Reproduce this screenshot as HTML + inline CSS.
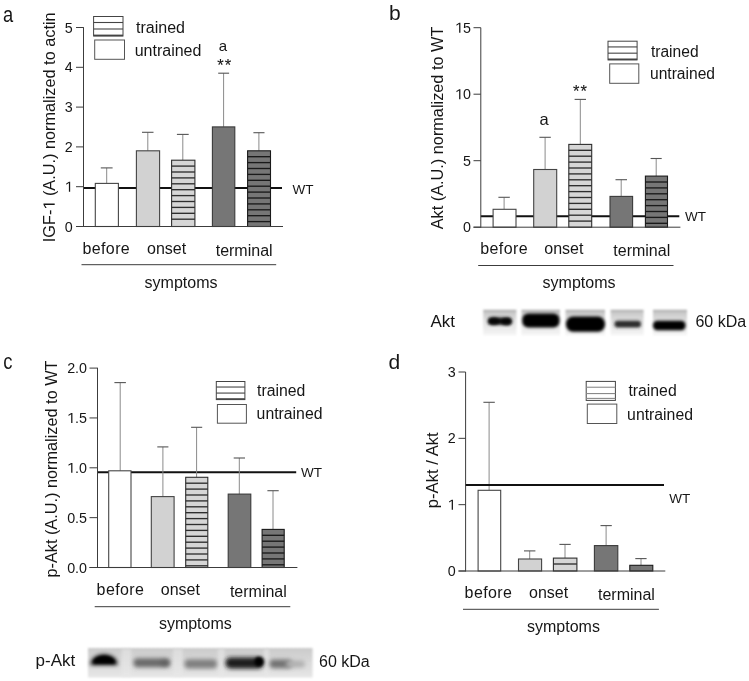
<!DOCTYPE html>
<html><head><meta charset="utf-8"><title>Figure</title>
<style>html,body{margin:0;padding:0;background:#fff;width:749px;height:681px;overflow:hidden}svg{display:block;will-change:transform}</style>
</head><body>
<svg width="749" height="681" viewBox="0 0 749 681" font-family='"Liberation Sans", sans-serif'>
<rect width="749" height="681" fill="#fff"/>
<line x1="83.5" y1="188" x2="282" y2="188" stroke="#111" stroke-width="2"/>
<line x1="106.7" y1="183.4" x2="106.7" y2="167.9" stroke="#8a8a8a" stroke-width="1"/>
<line x1="100.8" y1="167.9" x2="112.6" y2="167.9" stroke="#555" stroke-width="1.1"/>
<line x1="147.8" y1="150.8" x2="147.8" y2="132.3" stroke="#8a8a8a" stroke-width="1"/>
<line x1="142" y1="132.3" x2="153.5" y2="132.3" stroke="#555" stroke-width="1.1"/>
<line x1="182.8" y1="160.2" x2="182.8" y2="134.4" stroke="#8a8a8a" stroke-width="1"/>
<line x1="176.9" y1="134.4" x2="188.7" y2="134.4" stroke="#555" stroke-width="1.1"/>
<line x1="223.6" y1="126.9" x2="223.6" y2="73.2" stroke="#8a8a8a" stroke-width="1"/>
<line x1="218.2" y1="73.2" x2="229.1" y2="73.2" stroke="#555" stroke-width="1.1"/>
<line x1="258.9" y1="150.8" x2="258.9" y2="132.7" stroke="#8a8a8a" stroke-width="1"/>
<line x1="253.4" y1="132.7" x2="264.5" y2="132.7" stroke="#555" stroke-width="1.1"/>
<rect x="95.3" y="183.4" width="23.1" height="43.1" fill="#fff" stroke="#454545" stroke-width="1.1"/>
<rect x="136.4" y="150.8" width="23.2" height="75.7" fill="#d2d2d2" stroke="#444" stroke-width="1.1"/>
<rect x="171.6" y="160.2" width="23.3" height="66.3" fill="#d6d6d6" stroke="#2e2e2e" stroke-width="1.1"/>
<line x1="171.6" y1="166.1" x2="194.9" y2="166.1" stroke="#2e2e2e" stroke-width="1.35"/>
<line x1="171.6" y1="172.0" x2="194.9" y2="172.0" stroke="#2e2e2e" stroke-width="1.35"/>
<line x1="171.6" y1="177.9" x2="194.9" y2="177.9" stroke="#2e2e2e" stroke-width="1.35"/>
<line x1="171.6" y1="183.8" x2="194.9" y2="183.8" stroke="#2e2e2e" stroke-width="1.35"/>
<line x1="171.6" y1="189.7" x2="194.9" y2="189.7" stroke="#2e2e2e" stroke-width="1.35"/>
<line x1="171.6" y1="195.6" x2="194.9" y2="195.6" stroke="#2e2e2e" stroke-width="1.35"/>
<line x1="171.6" y1="201.5" x2="194.9" y2="201.5" stroke="#2e2e2e" stroke-width="1.35"/>
<line x1="171.6" y1="207.4" x2="194.9" y2="207.4" stroke="#2e2e2e" stroke-width="1.35"/>
<line x1="171.6" y1="213.3" x2="194.9" y2="213.3" stroke="#2e2e2e" stroke-width="1.35"/>
<line x1="171.6" y1="219.2" x2="194.9" y2="219.2" stroke="#2e2e2e" stroke-width="1.35"/>
<rect x="212.4" y="126.9" width="22.4" height="99.6" fill="#767676" stroke="#3a3a3a" stroke-width="1.1"/>
<rect x="247.6" y="150.8" width="22.9" height="75.7" fill="#767676" stroke="#1a1a1a" stroke-width="1.1"/>
<line x1="247.6" y1="156.7" x2="270.5" y2="156.7" stroke="#1a1a1a" stroke-width="1.35"/>
<line x1="247.6" y1="162.6" x2="270.5" y2="162.6" stroke="#1a1a1a" stroke-width="1.35"/>
<line x1="247.6" y1="168.5" x2="270.5" y2="168.5" stroke="#1a1a1a" stroke-width="1.35"/>
<line x1="247.6" y1="174.4" x2="270.5" y2="174.4" stroke="#1a1a1a" stroke-width="1.35"/>
<line x1="247.6" y1="180.3" x2="270.5" y2="180.3" stroke="#1a1a1a" stroke-width="1.35"/>
<line x1="247.6" y1="186.2" x2="270.5" y2="186.2" stroke="#1a1a1a" stroke-width="1.35"/>
<line x1="247.6" y1="192.1" x2="270.5" y2="192.1" stroke="#1a1a1a" stroke-width="1.35"/>
<line x1="247.6" y1="198.0" x2="270.5" y2="198.0" stroke="#1a1a1a" stroke-width="1.35"/>
<line x1="247.6" y1="203.9" x2="270.5" y2="203.9" stroke="#1a1a1a" stroke-width="1.35"/>
<line x1="247.6" y1="209.8" x2="270.5" y2="209.8" stroke="#1a1a1a" stroke-width="1.35"/>
<line x1="247.6" y1="215.7" x2="270.5" y2="215.7" stroke="#1a1a1a" stroke-width="1.35"/>
<line x1="247.6" y1="221.6" x2="270.5" y2="221.6" stroke="#1a1a1a" stroke-width="1.35"/>
<line x1="83.5" y1="27.2" x2="83.5" y2="227.0" stroke="#3c3c3c" stroke-width="1"/>
<line x1="76" y1="226.5" x2="283" y2="226.5" stroke="#3c3c3c" stroke-width="1"/>
<line x1="76" y1="226.5" x2="83.5" y2="226.5" stroke="#3c3c3c" stroke-width="1"/>
<text x="72.8" y="231.5" font-size="14.3" text-anchor="end" fill="#161616" >0</text>
<line x1="76" y1="186.7" x2="83.5" y2="186.7" stroke="#3c3c3c" stroke-width="1"/>
<path d="M580,0 L580,1237 L197,1010 L197,1180 L595,1409 L761,1409 L761,0 Z" transform="translate(64.85,191.7) scale(0.006982,-0.006982)" fill="#161616"/>
<text x="72.8" y="191.7" font-size="14.3" text-anchor="end" fill="#161616" > </text>
<line x1="76" y1="146.9" x2="83.5" y2="146.9" stroke="#3c3c3c" stroke-width="1"/>
<text x="72.8" y="151.9" font-size="14.3" text-anchor="end" fill="#161616" >2</text>
<line x1="76" y1="107.1" x2="83.5" y2="107.1" stroke="#3c3c3c" stroke-width="1"/>
<text x="72.8" y="112.1" font-size="14.3" text-anchor="end" fill="#161616" >3</text>
<line x1="76" y1="67.3" x2="83.5" y2="67.3" stroke="#3c3c3c" stroke-width="1"/>
<text x="72.8" y="72.3" font-size="14.3" text-anchor="end" fill="#161616" >4</text>
<line x1="76" y1="27.5" x2="83.5" y2="27.5" stroke="#3c3c3c" stroke-width="1"/>
<text x="72.8" y="32.5" font-size="14.3" text-anchor="end" fill="#161616" >5</text>
<text x="292.4" y="194.4" font-size="13.5" text-anchor="start" fill="#161616" >WT</text>
<text transform="translate(3,21.7) scale(0.84,1)" font-size="21.8" fill="#161616">a</text>
<g transform="translate(54.7,242.2) rotate(-90)">
<path d="M580,0 L580,1237 L197,1010 L197,1180 L595,1409 L761,1409 L761,0 Z" transform="translate(32.59,0) scale(0.007959,-0.007959)" fill="#161616"/>
<text x="0" y="0" font-size="16.3" fill="#161616">IGF-  (A.U.) normalized to actin</text></g>
<text x="223" y="51.2" font-size="15" text-anchor="middle" fill="#161616" >a</text>
<text x="220.4" y="70.8" font-size="16.5" text-anchor="middle" fill="#161616" stroke="#161616" stroke-width="0.12">*</text>
<text x="227.9" y="70.8" font-size="16.5" text-anchor="middle" fill="#161616" stroke="#161616" stroke-width="0.12">*</text>
<rect x="93.6" y="16.5" width="29.4" height="19.5" fill="#fff" stroke="#444" stroke-width="1"/>
<line x1="93.6" y1="22.5" x2="123" y2="22.5" stroke="#444" stroke-width="1.1"/>
<line x1="93.6" y1="29.0" x2="123" y2="29.0" stroke="#444" stroke-width="1.1"/>
<line x1="93.6" y1="35.4" x2="123" y2="35.4" stroke="#444" stroke-width="1.6"/>
<rect x="94.7" y="40" width="29.8" height="19.3" fill="#fff" stroke="#555" stroke-width="1"/>
<text x="136" y="32.9" font-size="16" text-anchor="start" fill="#161616" >trained</text>
<text x="134.7" y="55.7" font-size="16" text-anchor="start" fill="#161616" >untrained</text>
<text x="82.4" y="254.4" font-size="16" text-anchor="start" fill="#161616" letter-spacing="0.4">before</text>
<text x="147" y="254.4" font-size="16" text-anchor="start" fill="#161616" >onset</text>
<text x="215.7" y="255.8" font-size="16" text-anchor="start" fill="#161616" >terminal</text>
<line x1="81.5" y1="264.7" x2="276.2" y2="264.7" stroke="#3c3c3c" stroke-width="1"/>
<text x="144.6" y="288.2" font-size="16" text-anchor="start" fill="#161616" >symptoms</text>
<line x1="480.8" y1="216.3" x2="679.3" y2="216.3" stroke="#111" stroke-width="2"/>
<line x1="504.1" y1="209.3" x2="504.1" y2="197.3" stroke="#8a8a8a" stroke-width="1"/>
<line x1="498.4" y1="197.3" x2="509.9" y2="197.3" stroke="#555" stroke-width="1.1"/>
<line x1="545.1" y1="169.5" x2="545.1" y2="137.3" stroke="#8a8a8a" stroke-width="1"/>
<line x1="539.4" y1="137.3" x2="550.8" y2="137.3" stroke="#555" stroke-width="1.1"/>
<line x1="580.3" y1="144.4" x2="580.3" y2="99.4" stroke="#8a8a8a" stroke-width="1"/>
<line x1="574.6" y1="99.4" x2="586" y2="99.4" stroke="#555" stroke-width="1.1"/>
<line x1="621.2" y1="196.4" x2="621.2" y2="179.7" stroke="#8a8a8a" stroke-width="1"/>
<line x1="615.5" y1="179.7" x2="627" y2="179.7" stroke="#555" stroke-width="1.1"/>
<line x1="656.2" y1="176.1" x2="656.2" y2="158.5" stroke="#8a8a8a" stroke-width="1"/>
<line x1="650.6" y1="158.5" x2="661.7" y2="158.5" stroke="#555" stroke-width="1.1"/>
<rect x="493.1" y="209.3" width="22.9" height="17.9" fill="#fff" stroke="#454545" stroke-width="1.1"/>
<rect x="533.7" y="169.5" width="23.0" height="57.7" fill="#d2d2d2" stroke="#444" stroke-width="1.1"/>
<rect x="568.8" y="144.4" width="22.9" height="82.8" fill="#d6d6d6" stroke="#2e2e2e" stroke-width="1.1"/>
<line x1="568.8" y1="150.3" x2="591.7" y2="150.3" stroke="#2e2e2e" stroke-width="1.35"/>
<line x1="568.8" y1="156.2" x2="591.7" y2="156.2" stroke="#2e2e2e" stroke-width="1.35"/>
<line x1="568.8" y1="162.1" x2="591.7" y2="162.1" stroke="#2e2e2e" stroke-width="1.35"/>
<line x1="568.8" y1="168.0" x2="591.7" y2="168.0" stroke="#2e2e2e" stroke-width="1.35"/>
<line x1="568.8" y1="173.9" x2="591.7" y2="173.9" stroke="#2e2e2e" stroke-width="1.35"/>
<line x1="568.8" y1="179.8" x2="591.7" y2="179.8" stroke="#2e2e2e" stroke-width="1.35"/>
<line x1="568.8" y1="185.7" x2="591.7" y2="185.7" stroke="#2e2e2e" stroke-width="1.35"/>
<line x1="568.8" y1="191.6" x2="591.7" y2="191.6" stroke="#2e2e2e" stroke-width="1.35"/>
<line x1="568.8" y1="197.5" x2="591.7" y2="197.5" stroke="#2e2e2e" stroke-width="1.35"/>
<line x1="568.8" y1="203.4" x2="591.7" y2="203.4" stroke="#2e2e2e" stroke-width="1.35"/>
<line x1="568.8" y1="209.3" x2="591.7" y2="209.3" stroke="#2e2e2e" stroke-width="1.35"/>
<line x1="568.8" y1="215.2" x2="591.7" y2="215.2" stroke="#2e2e2e" stroke-width="1.35"/>
<line x1="568.8" y1="221.1" x2="591.7" y2="221.1" stroke="#2e2e2e" stroke-width="1.35"/>
<rect x="610" y="196.4" width="22.6" height="30.8" fill="#767676" stroke="#3a3a3a" stroke-width="1.1"/>
<rect x="645.4" y="176.1" width="22.1" height="51.1" fill="#767676" stroke="#1a1a1a" stroke-width="1.1"/>
<line x1="645.4" y1="182.0" x2="667.5" y2="182.0" stroke="#1a1a1a" stroke-width="1.35"/>
<line x1="645.4" y1="187.9" x2="667.5" y2="187.9" stroke="#1a1a1a" stroke-width="1.35"/>
<line x1="645.4" y1="193.8" x2="667.5" y2="193.8" stroke="#1a1a1a" stroke-width="1.35"/>
<line x1="645.4" y1="199.7" x2="667.5" y2="199.7" stroke="#1a1a1a" stroke-width="1.35"/>
<line x1="645.4" y1="205.6" x2="667.5" y2="205.6" stroke="#1a1a1a" stroke-width="1.35"/>
<line x1="645.4" y1="211.5" x2="667.5" y2="211.5" stroke="#1a1a1a" stroke-width="1.35"/>
<line x1="645.4" y1="217.4" x2="667.5" y2="217.4" stroke="#1a1a1a" stroke-width="1.35"/>
<line x1="645.4" y1="223.3" x2="667.5" y2="223.3" stroke="#1a1a1a" stroke-width="1.35"/>
<line x1="480.8" y1="27.7" x2="480.8" y2="227.7" stroke="#3c3c3c" stroke-width="1"/>
<line x1="473.5" y1="227.2" x2="680.4" y2="227.2" stroke="#3c3c3c" stroke-width="1"/>
<line x1="473.5" y1="227.2" x2="480.8" y2="227.2" stroke="#3c3c3c" stroke-width="1"/>
<text x="471.0" y="232.2" font-size="14.3" text-anchor="end" fill="#161616" >0</text>
<line x1="473.5" y1="160.7" x2="480.8" y2="160.7" stroke="#3c3c3c" stroke-width="1"/>
<text x="471.0" y="165.7" font-size="14.3" text-anchor="end" fill="#161616" >5</text>
<line x1="473.5" y1="94.2" x2="480.8" y2="94.2" stroke="#3c3c3c" stroke-width="1"/>
<path d="M580,0 L580,1237 L197,1010 L197,1180 L595,1409 L761,1409 L761,0 Z" transform="translate(455.09,99.2) scale(0.006982,-0.006982)" fill="#161616"/>
<text x="471.0" y="99.2" font-size="14.3" text-anchor="end" fill="#161616" > 0</text>
<line x1="473.5" y1="27.7" x2="480.8" y2="27.7" stroke="#3c3c3c" stroke-width="1"/>
<path d="M580,0 L580,1237 L197,1010 L197,1180 L595,1409 L761,1409 L761,0 Z" transform="translate(455.09,32.7) scale(0.006982,-0.006982)" fill="#161616"/>
<text x="471.0" y="32.7" font-size="14.3" text-anchor="end" fill="#161616" > 5</text>
<text x="685" y="220.8" font-size="13.5" text-anchor="start" fill="#161616" >WT</text>
<text x="389" y="19.7" font-size="21" text-anchor="start" fill="#161616" >b</text>
<g transform="translate(443.4,229.3) rotate(-90)">
<text x="0" y="0" font-size="16.3" fill="#161616">Akt (A.U.) normalized to WT</text></g>
<text x="544.1" y="125" font-size="16.5" text-anchor="middle" fill="#161616" >a</text>
<text x="576.1" y="97.3" font-size="16.5" text-anchor="middle" fill="#161616" stroke="#161616" stroke-width="0.12">*</text>
<text x="583.8" y="97.3" font-size="16.5" text-anchor="middle" fill="#161616" stroke="#161616" stroke-width="0.12">*</text>
<rect x="608" y="41.2" width="29.1" height="18.7" fill="#fff" stroke="#444" stroke-width="1"/>
<line x1="608" y1="46.93" x2="637.1" y2="46.93" stroke="#444" stroke-width="1.1"/>
<line x1="608" y1="53.17" x2="637.1" y2="53.17" stroke="#444" stroke-width="1.1"/>
<line x1="608" y1="59.3" x2="637.1" y2="59.3" stroke="#444" stroke-width="1.6"/>
<rect x="609.7" y="63.9" width="29.1" height="19.4" fill="#fff" stroke="#555" stroke-width="1"/>
<text x="650.9" y="56.5" font-size="15.6" text-anchor="start" fill="#161616" >trained</text>
<text x="650" y="79" font-size="15.6" text-anchor="start" fill="#161616" >untrained</text>
<text x="480.2" y="254.4" font-size="16" text-anchor="start" fill="#161616" letter-spacing="0.4">before</text>
<text x="544.3" y="254.4" font-size="16" text-anchor="start" fill="#161616" >onset</text>
<text x="613.3" y="256.4" font-size="16" text-anchor="start" fill="#161616" >terminal</text>
<line x1="478.2" y1="265.5" x2="673.5" y2="265.5" stroke="#3c3c3c" stroke-width="1"/>
<text x="542.6" y="288.2" font-size="16" text-anchor="start" fill="#161616" >symptoms</text>
<line x1="97.5" y1="472.3" x2="296.2" y2="472.3" stroke="#111" stroke-width="2"/>
<line x1="120.2" y1="470.8" x2="120.2" y2="382.6" stroke="#8a8a8a" stroke-width="1"/>
<line x1="114.4" y1="382.6" x2="125.9" y2="382.6" stroke="#555" stroke-width="1.1"/>
<line x1="162.9" y1="496.6" x2="162.9" y2="446.9" stroke="#8a8a8a" stroke-width="1"/>
<line x1="157.3" y1="446.9" x2="168.4" y2="446.9" stroke="#555" stroke-width="1.1"/>
<line x1="196.6" y1="477.3" x2="196.6" y2="427.3" stroke="#8a8a8a" stroke-width="1"/>
<line x1="191.1" y1="427.3" x2="202.2" y2="427.3" stroke="#555" stroke-width="1.1"/>
<line x1="239.3" y1="494.1" x2="239.3" y2="458" stroke="#8a8a8a" stroke-width="1"/>
<line x1="233.7" y1="458" x2="245" y2="458" stroke="#555" stroke-width="1.1"/>
<line x1="273.0" y1="529.4" x2="273.0" y2="490.7" stroke="#8a8a8a" stroke-width="1"/>
<line x1="267.4" y1="490.7" x2="278.7" y2="490.7" stroke="#555" stroke-width="1.1"/>
<rect x="108.7" y="470.8" width="22.3" height="96.7" fill="#fff" stroke="#454545" stroke-width="1.1"/>
<rect x="151.3" y="496.6" width="22.8" height="70.9" fill="#d2d2d2" stroke="#444" stroke-width="1.1"/>
<rect x="185.7" y="477.3" width="22.1" height="90.2" fill="#d6d6d6" stroke="#2e2e2e" stroke-width="1.1"/>
<line x1="185.7" y1="483.2" x2="207.8" y2="483.2" stroke="#2e2e2e" stroke-width="1.35"/>
<line x1="185.7" y1="489.1" x2="207.8" y2="489.1" stroke="#2e2e2e" stroke-width="1.35"/>
<line x1="185.7" y1="495.0" x2="207.8" y2="495.0" stroke="#2e2e2e" stroke-width="1.35"/>
<line x1="185.7" y1="500.9" x2="207.8" y2="500.9" stroke="#2e2e2e" stroke-width="1.35"/>
<line x1="185.7" y1="506.8" x2="207.8" y2="506.8" stroke="#2e2e2e" stroke-width="1.35"/>
<line x1="185.7" y1="512.7" x2="207.8" y2="512.7" stroke="#2e2e2e" stroke-width="1.35"/>
<line x1="185.7" y1="518.6" x2="207.8" y2="518.6" stroke="#2e2e2e" stroke-width="1.35"/>
<line x1="185.7" y1="524.5" x2="207.8" y2="524.5" stroke="#2e2e2e" stroke-width="1.35"/>
<line x1="185.7" y1="530.4" x2="207.8" y2="530.4" stroke="#2e2e2e" stroke-width="1.35"/>
<line x1="185.7" y1="536.3" x2="207.8" y2="536.3" stroke="#2e2e2e" stroke-width="1.35"/>
<line x1="185.7" y1="542.2" x2="207.8" y2="542.2" stroke="#2e2e2e" stroke-width="1.35"/>
<line x1="185.7" y1="548.1" x2="207.8" y2="548.1" stroke="#2e2e2e" stroke-width="1.35"/>
<line x1="185.7" y1="554.0" x2="207.8" y2="554.0" stroke="#2e2e2e" stroke-width="1.35"/>
<line x1="185.7" y1="559.9" x2="207.8" y2="559.9" stroke="#2e2e2e" stroke-width="1.35"/>
<line x1="185.7" y1="565.8" x2="207.8" y2="565.8" stroke="#2e2e2e" stroke-width="1.35"/>
<rect x="228.2" y="494.1" width="22.6" height="73.4" fill="#767676" stroke="#3a3a3a" stroke-width="1.1"/>
<rect x="262.1" y="529.4" width="22.1" height="38.1" fill="#767676" stroke="#1a1a1a" stroke-width="1.1"/>
<line x1="262.1" y1="535.3" x2="284.2" y2="535.3" stroke="#1a1a1a" stroke-width="1.35"/>
<line x1="262.1" y1="541.2" x2="284.2" y2="541.2" stroke="#1a1a1a" stroke-width="1.35"/>
<line x1="262.1" y1="547.1" x2="284.2" y2="547.1" stroke="#1a1a1a" stroke-width="1.35"/>
<line x1="262.1" y1="553.0" x2="284.2" y2="553.0" stroke="#1a1a1a" stroke-width="1.35"/>
<line x1="262.1" y1="558.9" x2="284.2" y2="558.9" stroke="#1a1a1a" stroke-width="1.35"/>
<line x1="262.1" y1="564.8" x2="284.2" y2="564.8" stroke="#1a1a1a" stroke-width="1.35"/>
<line x1="97.5" y1="367.8" x2="97.5" y2="568.0" stroke="#3c3c3c" stroke-width="1"/>
<line x1="89.5" y1="567.5" x2="297.4" y2="567.5" stroke="#3c3c3c" stroke-width="1"/>
<line x1="89.5" y1="567.5" x2="97.5" y2="567.5" stroke="#3c3c3c" stroke-width="1"/>
<text x="87.0" y="572.5" font-size="14.3" text-anchor="end" fill="#161616" >0.0</text>
<line x1="89.5" y1="517.65" x2="97.5" y2="517.65" stroke="#3c3c3c" stroke-width="1"/>
<text x="87.0" y="522.65" font-size="14.3" text-anchor="end" fill="#161616" >0.5</text>
<line x1="89.5" y1="467.8" x2="97.5" y2="467.8" stroke="#3c3c3c" stroke-width="1"/>
<path d="M580,0 L580,1237 L197,1010 L197,1180 L595,1409 L761,1409 L761,0 Z" transform="translate(67.12,472.8) scale(0.006982,-0.006982)" fill="#161616"/>
<text x="87.0" y="472.8" font-size="14.3" text-anchor="end" fill="#161616" > .0</text>
<line x1="89.5" y1="417.95" x2="97.5" y2="417.95" stroke="#3c3c3c" stroke-width="1"/>
<path d="M580,0 L580,1237 L197,1010 L197,1180 L595,1409 L761,1409 L761,0 Z" transform="translate(67.12,422.95) scale(0.006982,-0.006982)" fill="#161616"/>
<text x="87.0" y="422.95" font-size="14.3" text-anchor="end" fill="#161616" > .5</text>
<line x1="89.5" y1="368.1" x2="97.5" y2="368.1" stroke="#3c3c3c" stroke-width="1"/>
<text x="87.0" y="373.1" font-size="14.3" text-anchor="end" fill="#161616" >2.0</text>
<text x="301" y="477.3" font-size="13.5" text-anchor="start" fill="#161616" >WT</text>
<text transform="translate(3.3,368.9) scale(0.82,1)" font-size="22.5" fill="#161616">c</text>
<g transform="translate(57.2,577.6) rotate(-90)">
<text x="0" y="0" font-size="16.3" fill="#161616">p-Akt (A.U.) normalized to WT</text></g>
<rect x="216.3" y="381.5" width="28.6" height="18.1" fill="#fff" stroke="#444" stroke-width="1"/>
<line x1="216.3" y1="387.03" x2="244.9" y2="387.03" stroke="#444" stroke-width="1.1"/>
<line x1="216.3" y1="393.07" x2="244.9" y2="393.07" stroke="#444" stroke-width="1.1"/>
<line x1="216.3" y1="399.0" x2="244.9" y2="399.0" stroke="#444" stroke-width="1.6"/>
<rect x="217.4" y="404.5" width="29.0" height="18.7" fill="#fff" stroke="#555" stroke-width="1"/>
<text x="257" y="395.9" font-size="15.8" text-anchor="start" fill="#161616" >trained</text>
<text x="256.6" y="418.9" font-size="15.8" text-anchor="start" fill="#161616" >untrained</text>
<text x="96.6" y="595.3" font-size="16" text-anchor="start" fill="#161616" letter-spacing="0.4">before</text>
<text x="160.8" y="595.3" font-size="16" text-anchor="start" fill="#161616" >onset</text>
<text x="229.9" y="596.8" font-size="16" text-anchor="start" fill="#161616" >terminal</text>
<line x1="94.7" y1="606.7" x2="290.3" y2="606.7" stroke="#3c3c3c" stroke-width="1"/>
<text x="158.9" y="629.1" font-size="16" text-anchor="start" fill="#161616" >symptoms</text>
<line x1="465.6" y1="485" x2="664" y2="485" stroke="#111" stroke-width="2"/>
<line x1="489.1" y1="490.3" x2="489.1" y2="402.3" stroke="#8a8a8a" stroke-width="1"/>
<line x1="483.4" y1="402.3" x2="494.8" y2="402.3" stroke="#555" stroke-width="1.1"/>
<line x1="529.7" y1="559" x2="529.7" y2="550.9" stroke="#8a8a8a" stroke-width="1"/>
<line x1="524" y1="550.9" x2="535.4" y2="550.9" stroke="#555" stroke-width="1.1"/>
<line x1="565.0" y1="558.1" x2="565.0" y2="544.4" stroke="#8a8a8a" stroke-width="1"/>
<line x1="559.4" y1="544.4" x2="570.7" y2="544.4" stroke="#555" stroke-width="1.1"/>
<line x1="606.1" y1="545.6" x2="606.1" y2="525.6" stroke="#8a8a8a" stroke-width="1"/>
<line x1="600.5" y1="525.6" x2="611.8" y2="525.6" stroke="#555" stroke-width="1.1"/>
<line x1="641.0" y1="565.3" x2="641.0" y2="558.6" stroke="#8a8a8a" stroke-width="1"/>
<line x1="635.3" y1="558.6" x2="646.6" y2="558.6" stroke="#555" stroke-width="1.1"/>
<rect x="478.1" y="490.3" width="22.6" height="80.7" fill="#fff" stroke="#454545" stroke-width="1.1"/>
<rect x="518.5" y="559" width="23.1" height="12" fill="#d2d2d2" stroke="#444" stroke-width="1.1"/>
<rect x="553.4" y="558.1" width="23.5" height="12.9" fill="#d6d6d6" stroke="#2e2e2e" stroke-width="1.1"/>
<line x1="553.4" y1="564.0" x2="576.9" y2="564.0" stroke="#2e2e2e" stroke-width="1.35"/>
<rect x="594.4" y="545.6" width="23.4" height="25.4" fill="#767676" stroke="#3a3a3a" stroke-width="1.1"/>
<rect x="629.8" y="565.3" width="23.0" height="5.7" fill="#767676" stroke="#1a1a1a" stroke-width="1.1"/>
<line x1="465.6" y1="485" x2="664" y2="485" stroke="#111" stroke-width="2"/>
<line x1="465.6" y1="372" x2="465.6" y2="571.5" stroke="#3c3c3c" stroke-width="1"/>
<line x1="458.5" y1="571" x2="665.3" y2="571" stroke="#3c3c3c" stroke-width="1"/>
<line x1="458.5" y1="571.0" x2="465.6" y2="571.0" stroke="#3c3c3c" stroke-width="1"/>
<text x="455.6" y="576.0" font-size="14.3" text-anchor="end" fill="#161616" >0</text>
<line x1="458.5" y1="504.67" x2="465.6" y2="504.67" stroke="#3c3c3c" stroke-width="1"/>
<path d="M580,0 L580,1237 L197,1010 L197,1180 L595,1409 L761,1409 L761,0 Z" transform="translate(447.65,509.67) scale(0.006982,-0.006982)" fill="#161616"/>
<text x="455.6" y="509.67" font-size="14.3" text-anchor="end" fill="#161616" > </text>
<line x1="458.5" y1="438.34" x2="465.6" y2="438.34" stroke="#3c3c3c" stroke-width="1"/>
<text x="455.6" y="443.34" font-size="14.3" text-anchor="end" fill="#161616" >2</text>
<line x1="458.5" y1="372.01" x2="465.6" y2="372.01" stroke="#3c3c3c" stroke-width="1"/>
<text x="455.6" y="377.01" font-size="14.3" text-anchor="end" fill="#161616" >3</text>
<text x="669.3" y="503.2" font-size="13.5" text-anchor="start" fill="#161616" >WT</text>
<text x="388.5" y="368.5" font-size="21" text-anchor="start" fill="#161616" >d</text>
<g transform="translate(438.1,508.3) rotate(-90)">
<text x="0" y="0" font-size="16.7" fill="#161616">p-Akt / Akt</text></g>
<rect x="586.2" y="381.4" width="29.2" height="19.0" fill="#fff" stroke="#444" stroke-width="1"/>
<line x1="586.2" y1="387.23" x2="615.4" y2="387.23" stroke="#8a8a8a" stroke-width="1.1"/>
<line x1="586.2" y1="393.57" x2="615.4" y2="393.57" stroke="#8a8a8a" stroke-width="1.1"/>
<line x1="586.2" y1="398.4" x2="615.4" y2="398.4" stroke="#8a8a8a" stroke-width="1.1"/>
<rect x="587.3" y="404.1" width="29.5" height="19.4" fill="#fff" stroke="#555" stroke-width="1"/>
<text x="628.4" y="396.4" font-size="15.8" text-anchor="start" fill="#161616" >trained</text>
<text x="627.1" y="419.5" font-size="15.8" text-anchor="start" fill="#161616" >untrained</text>
<text x="464.6" y="598.2" font-size="16" text-anchor="start" fill="#161616" letter-spacing="0.4">before</text>
<text x="529" y="598.2" font-size="16" text-anchor="start" fill="#161616" >onset</text>
<text x="598" y="600.2" font-size="16" text-anchor="start" fill="#161616" >terminal</text>
<line x1="463" y1="609.3" x2="658.9" y2="609.3" stroke="#3c3c3c" stroke-width="1"/>
<text x="527" y="632" font-size="16" text-anchor="start" fill="#161616" >symptoms</text>
<defs>
<filter id="bl" x="-30%" y="-60%" width="160%" height="220%"><feGaussianBlur stdDeviation="1.6"/></filter>
<filter id="bl3" x="-30%" y="-80%" width="160%" height="260%"><feGaussianBlur stdDeviation="2.1"/></filter>
<filter id="bl0" x="-10%" y="-10%" width="120%" height="120%"><feGaussianBlur stdDeviation="0.8"/></filter>
<linearGradient id="lg" x1="0" y1="0" x2="0" y2="1"><stop offset="0" stop-color="#a8a8a8"/><stop offset="0.12" stop-color="#cacaca"/><stop offset="0.45" stop-color="#e0e0e0"/><stop offset="1" stop-color="#f6f6f6"/></linearGradient>
<linearGradient id="lg2" x1="0" y1="0" x2="0" y2="1"><stop offset="0" stop-color="#cacaca"/><stop offset="0.5" stop-color="#dadada"/><stop offset="1" stop-color="#e6e6e6"/></linearGradient>
</defs>
<text x="430.5" y="326.6" font-size="17" text-anchor="start" fill="#161616" >Akt</text>
<rect x="483.2" y="309.8" width="33.2" height="25.5" fill="url(#lg)" filter="url(#bl0)"/>
<rect x="521.5" y="309.8" width="38.5" height="25.5" fill="url(#lg)" filter="url(#bl0)"/>
<rect x="565.5" y="309.8" width="39.5" height="25.5" fill="url(#lg)" filter="url(#bl0)"/>
<rect x="610.6" y="309.8" width="33.0" height="25.5" fill="url(#lg)" filter="url(#bl0)"/>
<rect x="653" y="309.8" width="34" height="25.5" fill="url(#lg)" filter="url(#bl0)"/>
<rect x="488" y="317.6" width="23.5" height="7.2" rx="3" fill="#141414" filter="url(#bl)"/>
<rect x="522.3" y="313.4" width="37.2" height="14.2" rx="6" fill="#000" filter="url(#bl)"/>
<rect x="566" y="316.6" width="39" height="15.2" rx="7" fill="#000" filter="url(#bl)"/>
<rect x="614.5" y="320.8" width="26.5" height="6.8" rx="3" fill="#2c2c2c" filter="url(#bl)"/>
<rect x="653" y="320.8" width="32.5" height="9.4" rx="4.2" fill="#000" filter="url(#bl)"/>
<ellipse cx="494" cy="321.2" rx="5.5" ry="3.6" fill="#000" opacity="0.75" filter="url(#bl)"/>
<ellipse cx="506.5" cy="321.6" rx="5.5" ry="3.6" fill="#000" opacity="0.75" filter="url(#bl)"/>
<text x="695.4" y="327" font-size="16" text-anchor="start" fill="#161616" >60 kDa</text>
<text x="35.6" y="666.4" font-size="17" text-anchor="start" fill="#161616" >p-Akt</text>
<rect x="88" y="648" width="224.6" height="29.5" fill="url(#lg2)" filter="url(#bl0)"/>
<rect x="121.7" y="649" width="9.6" height="27.5" fill="#e8e8e8" opacity="0.6" filter="url(#bl)"/>
<rect x="173" y="649" width="9.6" height="27.5" fill="#e8e8e8" opacity="0.6" filter="url(#bl)"/>
<rect x="217.8" y="649" width="6.9" height="27.5" fill="#e8e8e8" opacity="0.6" filter="url(#bl)"/>
<rect x="263.8" y="649" width="5.2" height="27.5" fill="#e8e8e8" opacity="0.6" filter="url(#bl)"/>
<path d="M90.5,665 C90.5,651 117.5,651 117.5,665 Z" fill="#000" filter="url(#bl3)"/>
<path d="M93.5,663 C93.5,654 114.5,654 114.5,663 Z" fill="#000" filter="url(#bl)"/>
<rect x="133.5" y="658.2" width="36.5" height="9.0" rx="4" fill="#6a6a6a" filter="url(#bl3)"/>
<rect x="184.5" y="659.2" width="32.5" height="9.2" rx="4" fill="#808080" filter="url(#bl3)"/>
<rect x="225.5" y="657.6" width="38.0" height="10.8" rx="5" fill="#1c1c1c" filter="url(#bl3)"/>
<rect x="269.5" y="659.4" width="22.5" height="8.8" rx="4" fill="#727272" filter="url(#bl3)"/>
<rect x="286" y="660.4" width="19" height="7.2" rx="3.5" fill="#b0b0b0" filter="url(#bl3)"/>
<ellipse cx="259" cy="661.5" rx="4.6" ry="4.8" fill="#000" filter="url(#bl)"/>
<ellipse cx="165" cy="663" rx="4.5" ry="3" fill="#555" opacity="0.5" filter="url(#bl3)"/>
<text x="319" y="667.2" font-size="16" text-anchor="start" fill="#161616" >60 kDa</text>
</svg>
</body></html>
